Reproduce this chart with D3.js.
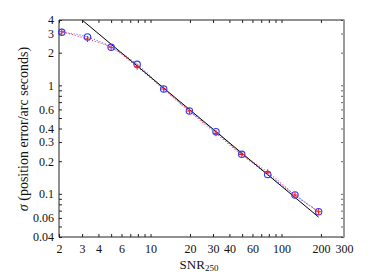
<!DOCTYPE html>
<html>
<head>
<meta charset="utf-8">
<script src="https://cdn.jsdelivr.net/npm/d3@7"></script>
<style>
	body { margin: 0; background: #fff; }
	text { font-family: "Liberation Serif", "DejaVu Serif", serif; }
</style>
</head>
<body>
<script>
// values
var snr = [2.1, 3.3, 5.0, 7.9, 12.6, 19.8, 31.6, 49.7, 78.4, 126.7, 192];
var sigmaBlue = [3.08, 2.79, 2.24, 1.56, 0.925, 0.58, 0.374, 0.231, 0.151, 0.0975, 0.0684];
var sigmaRed = [3.12, 2.67, 2.24, 1.485, 0.925, 0.58, 0.361, 0.231, 0.158, 0.0975, 0.0684];
// black reference line, two ends
var refSnr = [3, 192];
var refSigma = [4, 0.061];

var xTicks = [2, 3, 4, 5, 6, 7, 8, 9, 10, 20, 30, 40, 50, 60, 70, 80, 90, 100, 200, 300];
var xLabels = [2, 3, 4, 6, 10, 20, 30, 40, 60, 100, 200, 300];
var yTicks = [0.04, 0.05, 0.06, 0.07, 0.08, 0.09, 0.1, 0.2, 0.3, 0.4, 0.5, 0.6, 0.7, 0.8, 0.9, 1, 2, 3, 4];
var yLabels = [0.04, 0.06, 0.1, 0.2, 0.3, 0.4, 0.6, 1, 2, 3, 4];

var width = 390, height = 276;
// plot box (window.top is taken, so use a margin object)
var box = { left: 59, right: 344, top: 20, bottom: 237 };

var svg = d3.select("body").append("svg")
	.attr("width", width)
	.attr("height", height);

var xScale = d3.scaleLog().domain([2, 300]).range([box.left, box.right]);
var yScale = d3.scaleLog().domain([0.04, 4]).range([box.bottom, box.top]);

svg.append("defs").append("clipPath").attr("id", "plotClip")
	.append("rect")
	.attr("x", box.left).attr("y", box.top)
	.attr("width", box.right - box.left).attr("height", box.bottom - box.top);

function fmt(list) {
	return function (d) { return list.indexOf(d) >= 0 ? d : ""; };
}

// bottom axis
var gx = svg.append("g")
	.attr("transform", "translate(0," + box.bottom + ")")
	.call(d3.axisBottom(xScale).tickValues(xTicks).tickSize(-3).tickPadding(7).tickFormat(fmt(xLabels)));
// top axis, no labels
var gxt = svg.append("g")
	.attr("transform", "translate(0," + box.top + ")")
	.call(d3.axisTop(xScale).tickValues(xTicks).tickSize(-3).tickFormat(""));
// left axis
var gy = svg.append("g")
	.attr("transform", "translate(" + box.left + ",0)")
	.call(d3.axisLeft(yScale).tickValues(yTicks).tickSize(-3).tickPadding(5).tickFormat(fmt(yLabels)));
// right axis, no labels
var gyr = svg.append("g")
	.attr("transform", "translate(" + box.right + ",0)")
	.call(d3.axisRight(yScale).tickValues(yTicks).tickSize(-3).tickFormat(""));

[gx, gxt, gy, gyr].forEach(function (g) {
	g.select(".domain").remove();
	g.selectAll(".tick line").attr("stroke", "#222");
	g.selectAll("text").attr("font-size", "12px").attr("fill", "#111")
		.style("font-family", "'Liberation Serif', serif");
});
gyr.selectAll(".tick line").attr("stroke", "#666");

// frame
svg.append("line").attr("x1", box.left).attr("x2", box.right).attr("y1", box.top).attr("y2", box.top)
	.attr("stroke", "#222");
svg.append("line").attr("x1", box.left).attr("x2", box.right).attr("y1", box.bottom).attr("y2", box.bottom)
	.attr("stroke", "#222");
svg.append("line").attr("x1", box.left).attr("x2", box.left).attr("y1", box.top).attr("y2", box.bottom)
	.attr("stroke", "#222");
svg.append("line").attr("x1", box.right).attr("x2", box.right).attr("y1", box.top - 0.5).attr("y2", box.bottom + 0.5)
	.attr("stroke", "#9a9a9a").attr("stroke-width", 2);

var plot = svg.append("g").attr("clip-path", "url(#plotClip)");

var lineFit = d3.line()
	.x(function (d, i) { return xScale(snr[i]); })
	.y(function (d) { return yScale(d); })
	.curve(d3.curveMonotoneX);

// dotted fits
plot.append("path")
	.datum(sigmaBlue)
	.attr("d", lineFit)
	.attr("fill", "none")
	.attr("stroke", "#5a6cff")
	.attr("stroke-width", 1.2)
	.attr("stroke-dasharray", "1,2");
plot.append("path")
	.datum(sigmaRed)
	.attr("d", lineFit)
	.attr("fill", "none")
	.attr("stroke", "#ff4060")
	.attr("stroke-width", 1.2)
	.attr("stroke-dasharray", "1,2")
	.attr("stroke-dashoffset", 1.5);

// black reference line
plot.append("path")
	.datum(refSigma)
	.attr("d", d3.line()
		.x(function (d, i) { return xScale(refSnr[i]); })
		.y(function (d) { return yScale(d); }))
	.attr("fill", "none")
	.attr("stroke", "#000")
	.attr("stroke-width", 1);

// blue circles
svg.selectAll(".bdot")
	.data(sigmaBlue)
	.enter()
	.append("circle")
	.attr("class", "bdot")
	.attr("cx", function (d, i) { return xScale(snr[i]); })
	.attr("cy", function (d) { return yScale(d); })
	.attr("r", 3.2)
	.attr("fill", "none")
	.attr("stroke", "#2a3cff")
	.attr("stroke-width", 1.1);

// red plus marks
svg.selectAll(".rplus")
	.data(sigmaRed)
	.enter()
	.append("path")
	.attr("class", "rplus")
	.attr("transform", function (d, i) { return "translate(" + xScale(snr[i]) + "," + yScale(d) + ")"; })
	.attr("d", "M-3,0H3M0,-3V3")
	.attr("stroke", "#ff1a1a")
	.attr("stroke-width", 1.1);

// axis labels
var xl = svg.append("text")
	.attr("x", 199)
	.attr("y", 269)
	.attr("text-anchor", "middle")
	.attr("font-size", "13px")
	.attr("fill", "#111");
xl.append("tspan").text("SNR");
xl.append("tspan").attr("font-size", "9px").attr("dy", 2).text("250");

var yl = svg.append("text")
	.attr("transform", "translate(28,129) rotate(-90)")
	.attr("text-anchor", "middle")
	.attr("font-size", "14px")
	.attr("fill", "#111");
yl.append("tspan").attr("font-style", "italic").text("σ");
yl.append("tspan").text(" (position error/arc seconds)");
</script>
</body>
</html>
